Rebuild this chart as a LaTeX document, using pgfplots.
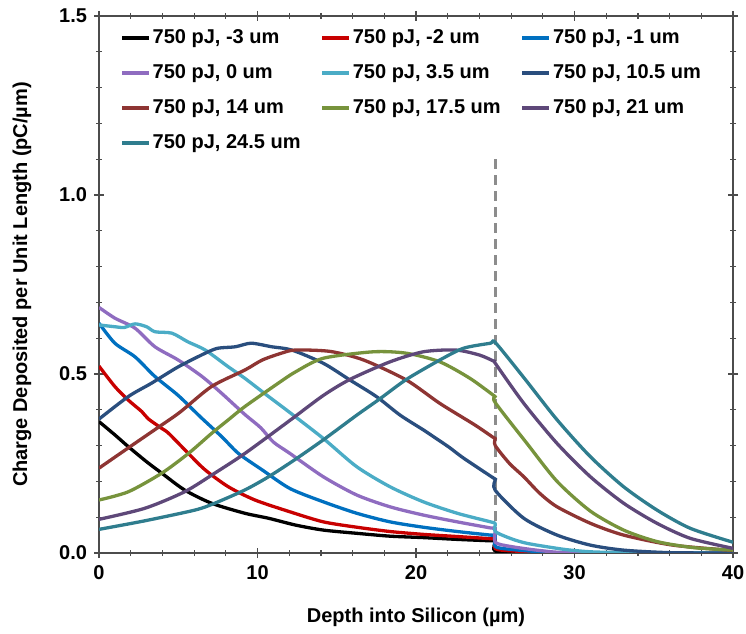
\documentclass[border=0pt]{standalone}
\usepackage{fontspec}
\setmainfont{Liberation Sans}
\usepackage{pgfplots}
\pgfplotsset{compat=1.18}
\definecolor{cRed}{HTML}{C80000}
\definecolor{cBlue}{HTML}{0070C0}
\definecolor{cLav}{HTML}{8F6CC0}
\definecolor{cLBlue}{HTML}{4BACC6}
\definecolor{cDBlue}{HTML}{2A4E7E}
\definecolor{cBrown}{HTML}{8E3533}
\definecolor{cGreen}{HTML}{77933C}
\definecolor{cDPurp}{HTML}{5E4879}
\definecolor{cTeal}{HTML}{2F7D8E}
\begin{document}
\begin{tikzpicture}
\begin{axis}[
  scale only axis, width=317pt, height=268.5pt,
  xmin=0, xmax=40, ymin=0, ymax=1.5,
  xtick={0,10,20,30,40}, ytick={0,0.5,1,1.5},
  minor x tick num=4, minor y tick num=4,
  tick align=center, major tick length=5pt, minor tick length=3pt,
  tick style={black!70, line width=0.6pt},
  axis line style={black!70, line width=0.8pt},
  /pgf/number format/assume math mode=true,
  ticklabel style={font=\bfseries},
  yticklabel style={/pgf/number format/.cd, fixed, fixed zerofill, precision=1},
  xlabel={\bfseries Depth into Silicon (µm)},
  ylabel={\bfseries Charge Deposited per Unit Length (pC/µm)},
  xlabel style={at={(axis description cs:0.5,-0.119)}, anchor=center},
  ylabel style={at={(axis description cs:-0.1215,0.5)}, anchor=center},
  legend columns=3,
  legend cell align=left,
  legend style={draw=none, fill=none, font=\bfseries, at={(rel axis cs:0,1)}, anchor=north west,
    xshift=10.5pt, yshift=-4.5pt, inner sep=0pt, column sep=0pt,
    nodes={inner sep=1pt, text height=8pt, text depth=2.5pt},
    row sep=5pt,
    /tikz/column 2/.style={column sep=9pt},
    /tikz/column 4/.style={column sep=9pt}},
  legend image code/.code={\draw[line width=1.65pt] (0pt,0pt) -- (13.5pt,0pt);},
  every axis plot/.append style={line width=1.65pt, line join=round, smooth, tension=0.45},
]
\addplot[gray!90, line width=1.6pt, dash pattern=on 5pt off 3pt, forget plot, sharp plot] coordinates {(25,0) (25,1.1)};
% -3 um
\addplot[black] coordinates {(0,0.367) (1,0.33) (1.85,0.297) (3,0.255) (3.96,0.223) (5.4,0.176) (7.1,0.139) (9.2,0.111) (10.7,0.097) (12.4,0.078) (14.15,0.064) (16.26,0.055) (18.36,0.047) (20.46,0.043) (22.6,0.038) (24.7,0.034) (25,0.033) (25,0.005) (27,0.001) (30,0) (40,0)};
\addlegendentry{750 pJ, -3 um}
% -2 um
\addplot[cRed] coordinates {(0,0.522) (1,0.465) (1.85,0.427) (2.7,0.395) (3.1,0.375) (3.96,0.348) (4.4,0.334) (5.64,0.278) (6.7,0.232) (8.16,0.185) (9.84,0.148) (12.05,0.115) (14.15,0.087) (16.26,0.072) (18.36,0.06) (20.46,0.052) (22.6,0.046) (24.7,0.04) (25,0.039) (25,0.012) (26,0.006) (28,0.002) (30,0) (40,0)};
\addlegendentry{750 pJ, -2 um}
% -1 um
\addplot[cBlue] coordinates {(0,0.642) (1,0.586) (2.27,0.548) (3.53,0.493) (5.0,0.44) (6.4,0.38) (7.74,0.325) (8.8,0.278) (10.3,0.232) (12.05,0.18) (14.15,0.143) (16.26,0.111) (18.36,0.087) (20.46,0.072) (22.6,0.06) (24.7,0.05) (25,0.049) (25,0.018) (26,0.01) (28,0.003) (30,0) (40,0)};
\addlegendentry{750 pJ, -1 um}
% 0 um
\addplot[cLav] coordinates {(0,0.686) (1,0.656) (2.27,0.628) (3.53,0.576) (5.0,0.539) (6.5,0.493) (7.74,0.446) (9.2,0.387) (10.2,0.35) (11.0,0.31) (12.05,0.278) (14.15,0.213) (16.26,0.162) (18.36,0.129) (20.46,0.106) (22.6,0.087) (24.7,0.07) (25,0.068) (25,0.03) (26,0.018) (28,0.006) (30,0.001) (40,0)};
\addlegendentry{750 pJ, 0 um}
% 3.5 um
\addplot[cLBlue] coordinates {(0,0.637) (1,0.632) (1.6,0.63) (2.27,0.64) (3.0,0.632) (3.53,0.618) (4.6,0.614) (5.6,0.59) (6.7,0.567) (8.16,0.52) (9.2,0.488) (10.7,0.437) (12.05,0.392) (14.15,0.32) (16.26,0.241) (18.36,0.185) (20.46,0.143) (22.6,0.111) (24.7,0.087) (25,0.082) (25,0.06) (26,0.04) (27,0.027) (28.9,0.013) (30,0.007) (32,0.002) (40,0)};
\addlegendentry{750 pJ, 3.5 um}
% 10.5 um
\addplot[cDBlue] coordinates {(0,0.374) (1.85,0.437) (3.3,0.474) (5.0,0.52) (6.7,0.558) (7.5,0.572) (8.6,0.576) (9.6,0.586) (10.9,0.576) (12.16,0.567) (14.15,0.53) (15.84,0.483) (17.5,0.437) (19.0,0.385) (20.46,0.344) (21.1,0.325) (22.1,0.295) (23.0,0.265) (24.9,0.209) (25,0.206) (25,0.175) (26.8,0.097) (28.9,0.05) (31,0.022) (33.1,0.008) (36,0.001) (40,0)};
\addlegendentry{750 pJ, 10.5 um}
% 14 um
\addplot[cBrown] coordinates {(0,0.237) (1.96,0.297) (3.64,0.348) (5.1,0.393) (7.1,0.465) (9.2,0.511) (10.3,0.539) (11.5,0.558) (12.4,0.567) (14.6,0.563) (16.7,0.539) (19.4,0.483) (21.5,0.418) (23.7,0.358) (24.9,0.322) (25,0.32) (25,0.3) (25.9,0.25) (26.8,0.213) (27.8,0.167) (28.9,0.129) (31,0.083) (33.1,0.05) (36.2,0.022) (40,0.007)};
\addlegendentry{750 pJ, 14 um}
% 17.5 um
\addplot[cGreen] coordinates {(0,0.148) (1.85,0.171) (3.96,0.223) (5.64,0.278) (7.1,0.334) (8.16,0.372) (9.2,0.409) (11.3,0.474) (12.4,0.506) (14.15,0.544) (17.3,0.562) (19.4,0.558) (21.5,0.534) (23.4,0.488) (24.9,0.44) (25,0.437) (25,0.42) (27.0,0.306) (28.9,0.2) (31,0.117) (33.1,0.064) (35.2,0.032) (37.5,0.015) (40,0.008)};
\addlegendentry{750 pJ, 17.5 um}
% 21 um
\addplot[cDPurp] coordinates {(0,0.094) (2.9,0.125) (5.4,0.171) (7.3,0.223) (9.2,0.278) (11.94,0.367) (14.15,0.44) (15.84,0.485) (18.36,0.534) (20.46,0.562) (22.5,0.567) (24.0,0.553) (24.9,0.536) (25,0.534) (25,0.53) (26.8,0.418) (28.9,0.306) (31,0.213) (33.1,0.139) (35.2,0.083) (37.3,0.041) (40,0.013)};
\addlegendentry{750 pJ, 21 um}
% 24.5 um
\addplot[cTeal] coordinates {(0,0.066) (2.9,0.09) (6.06,0.12) (7.3,0.139) (9.2,0.176) (10.7,0.213) (12.4,0.262) (14.15,0.316) (16.26,0.385) (17.7,0.43) (19.4,0.485) (21.5,0.539) (23,0.572) (24.7,0.586) (25,0.588) (26.8,0.49) (28.9,0.372) (31,0.269) (33.1,0.185) (35.2,0.12) (37.3,0.069) (40,0.03)};
\addlegendentry{750 pJ, 24.5 um}
\coordinate (sw) at (rel axis cs:0,0);
\coordinate (ne) at (rel axis cs:1,1);
\end{axis}
\pgfresetboundingbox
\path (sw) +(-49.5pt,-40.5pt) (ne) +(6.5pt,8pt);
\end{tikzpicture}
\end{document}
